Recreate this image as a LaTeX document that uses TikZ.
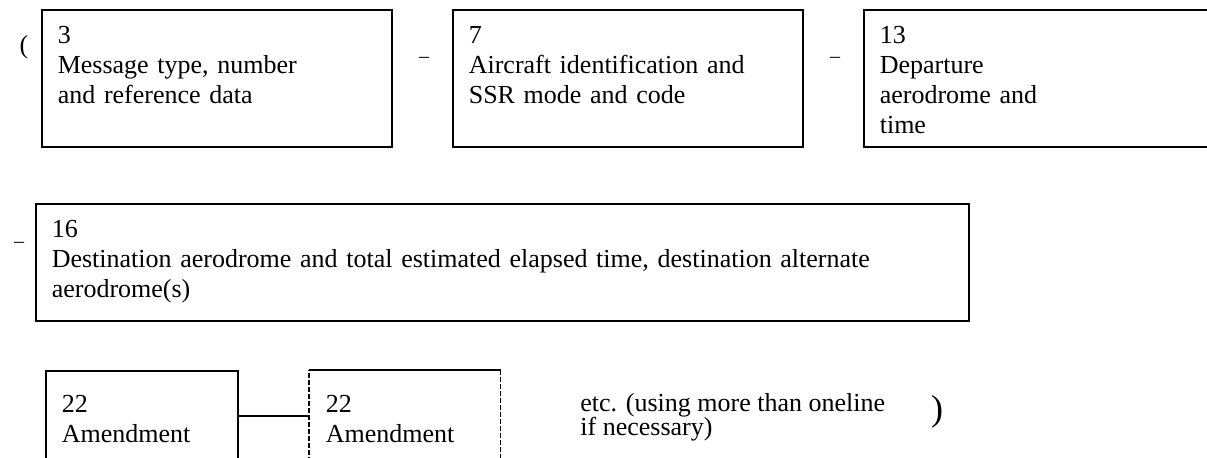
\documentclass[tikz,border=0pt]{standalone}
\usepackage{fontspec}
\setmainfont{Liberation Serif}
\usetikzlibrary{positioning}

\begin{document}
\begin{tikzpicture}[x=0.5pt, y=-0.5pt,
  field/.style={draw, line width=0.8pt, anchor=north west, align=left, inner xsep=8pt, inner ysep=0pt, text height=17pt, font=\fontsize{13}{15}\selectfont},
  wide/.style={field, text width=159pt, text depth=51.5pt},
  amend/.style={field, text height=21pt, text depth=24pt},
  sep/.style={inner sep=0pt, font=\fontsize{10}{12}\selectfont},
  note/.style={anchor=north west, align=left, inner sep=0pt, text height=10pt, font=\fontsize{13}{12}\selectfont}
]
\useasboundingbox (0,0) rectangle (1207,457);

% first line of the message
\node[inner sep=0pt, font=\fontsize{13}{15}\selectfont] (open) at (24,47) {(};
\node[wide] (type) at (41,9) {3\\Message type, number\\and reference data};
\node[sep] (dashA) at (424,60) {\textendash};
\node[wide] (ident) at (452,9) {7\\Aircraft identification and\\SSR mode and code};
\node[sep] (dashB) at (835,60) {\textendash};
\node[wide] (dep) at (863,9) {13\\Departure\\aerodrome and\\time};

% second line
\node[sep] (dashC) at (19,245) {\textendash};
\node[field, text width=450.5pt, text depth=41.5pt] (dest) at (35,203) {16\\\makebox[415pt][s]{Destination aerodrome and total estimated elapsed time, destination alternate}\\aerodrome(s)};

% amendments
\node[amend, text width=80pt] (amendA) at (45,370) {22\\Amendment};
\node[amend, draw=none, text width=79pt] (amendB) at (309,370) {22\\Amendment};
\draw[line width=0.8pt, dash pattern=on 2.5pt off 1pt] (amendB.south west) -- (amendB.north west);
\draw[line width=0.8pt] (amendB.north west) -- (amendB.north east);
\draw[line width=0.8pt, dash pattern=on 2.5pt off 1pt] (amendB.north east) -- (amendB.south east);
\draw[line width=0.8pt] (amendA.east) -- (amendB.west);

\node[note] (etc) at (580,415) {etc. (using more than oneline\\if necessary)};
\node[inner sep=0pt, font=\fontsize{18}{20}\selectfont] (close) at (937,412) {)};
\end{tikzpicture}
\end{document}
